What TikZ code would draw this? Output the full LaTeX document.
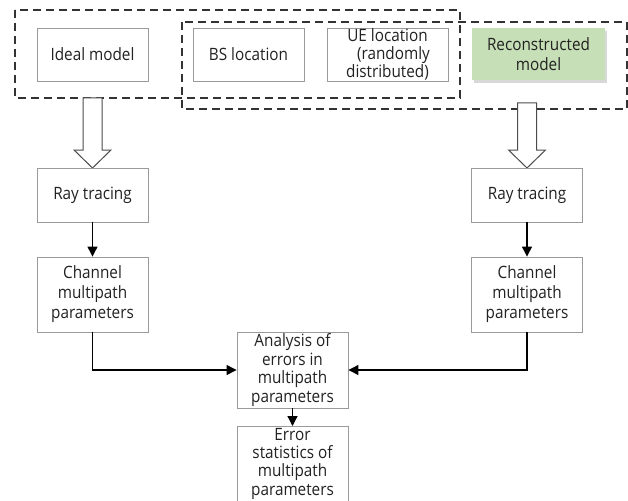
\documentclass[tikz,border=0pt]{standalone}
\usepackage{fontspec}
\setmainfont{Open Sans}[FakeStretch=0.9]
\usetikzlibrary{arrows.meta,shadows,calc}
\definecolor{boxline}{HTML}{9A9A9A}
\definecolor{greenfill}{HTML}{C6DFB6}
\definecolor{txt}{HTML}{222222}
\tikzset{
  box/.style={draw=boxline,line width=0.9pt,fill=white,align=center,text=txt,
    font=\fontsize{17}{20}\selectfont,inner sep=0pt},
  tight/.style={font=\fontsize{17}{18.7}\selectfont},
  greenbox/.style={box,draw=none,fill=greenfill,drop shadow={opacity=0.3,shadow xshift=1.5pt,shadow yshift=-3pt}},
  dashbox/.style={draw=black!80,line width=1.8pt,dash pattern=on 8pt off 5pt},
  hollow/.style={draw=black!70,line width=1pt,fill=white,line join=miter},
  arr/.style={draw=black,line width=1.2pt,-{Triangle[length=10pt,width=10pt]}},
}
\newcommand\hollowarrow[4]{% x, ytop, yhead, ytip
  \draw[hollow] (#1-9.5,#2) -- (#1+9.5,#2) -- (#1+9.5,#3) -- (#1+18.5,#3) -- (#1,#4)
    -- (#1-18.5,#3) -- (#1-9.5,#3) -- cycle;}
\begin{document}
\begin{tikzpicture}[x=1pt,y=-1pt]
\useasboundingbox (0,0) rectangle (628,500);
\fill[white] (0,0) rectangle (628,500);
\begin{scope}
\clip (0,0) rectangle (628,500);
% top nodes
\node[box,minimum width=111pt,minimum height=53pt] (ideal) at (92.5,54.5) {Ideal model};
\node[box,minimum width=111pt,minimum height=53pt] (bs) at (248.5,54.5) {BS location};
\node[box,font=\fontsize{17}{18}\selectfont,minimum width=121pt,minimum height=53pt] (ue) at (387.5,54.5) {UE location\\\hspace*{0.7em}(randomly\\distributed)};
\node[greenbox,minimum width=133pt,minimum height=52pt] (recon) at (538.5,54) {Reconstructed\\model};
% dashed groups
\draw[dashbox] (15,10) rectangle (460,98);
\draw[dashbox] (182,22) rectangle (627,109);
% hollow arrows
\hollowarrow{92.5}{98}{150}{168}
\hollowarrow{527}{103}{150}{168}
% left column
\node[box,minimum width=111pt,minimum height=54pt] (ray1) at (92.5,195) {Ray tracing};
\node[box,minimum width=111pt,minimum height=75pt] (ch1) at (92.5,294.5) {Channel\\multipath\\parameters};
% right column
\node[box,minimum width=111pt,minimum height=54pt] (ray2) at (527,195) {Ray tracing};
\node[box,minimum width=111pt,minimum height=75pt] (ch2) at (527,294.5) {Channel\\multipath\\parameters};
% center
\node[box,tight,minimum width=111pt,minimum height=76pt] (ana) at (292.5,370) {Analysis of\\errors in\\multipath\\parameters};
\node[box,font=\fontsize{17}{18.4}\selectfont,minimum width=111pt,inner ysep=1.5pt,anchor=north] (err) at (292.5,426) {Error\\statistics of\\multipath\\parameters\rule[-12pt]{0pt}{1pt}};
% connectors
\draw[arr] (ray1) -- (ch1);
\draw[arr] (ray2) -- (ch2);
\draw[arr] (ch1.south) |- (ana.west);
\draw[arr] (ch2.south) |- (ana.east);
\draw[arr] (ana) -- (err);
\end{scope}
\end{tikzpicture}
\end{document}
